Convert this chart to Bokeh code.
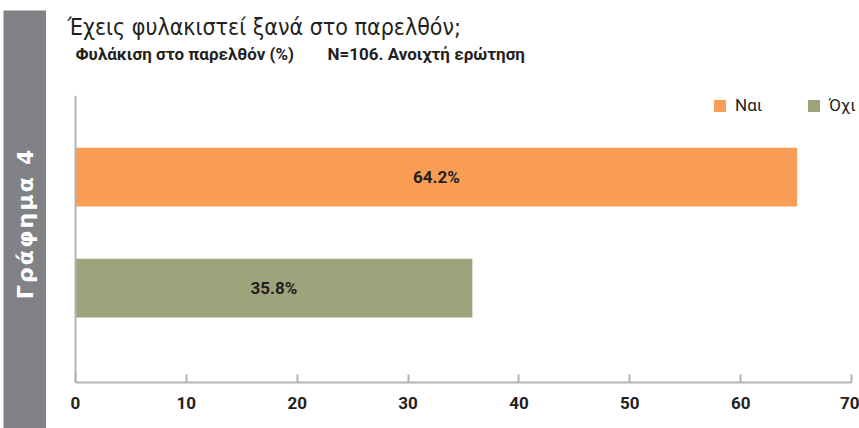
import math
from bokeh.plotting import figure
from bokeh.layouts import row, column
from bokeh.models import (Range1d, FixedTicker, Label, Legend, LegendItem,
                          ColumnDataSource, Span)
from bokeh.core.properties import value
from bokeh.embed import file_html
from bokeh.resources import INLINE

# ---- data ----
categories = ["Ναι", "Όχι"]
bar_lengths = [65.1, 35.8]          # as drawn in the picture
label_values = [64.2, 35.8]         # as printed on the bars
positions = [2, 1]
colors = ["#F99D55", "#9DA47C"]
x_ticks = [0, 10, 20, 30, 40, 50, 60, 70]
title_text = "Έχεις φυλακιστεί ξανά στο παρελθόν;"
subtitle_left = "Φυλάκιση στο παρελθόν (%)"
subtitle_right = "N=106. Ανοιχτή ερώτηση"
sidebar_text = "Γράφημα 4"

TFONT = "DejaVu Sans Condensed"
FONT = "Roboto"
DARK = "#231f20"
AXIS = "#b1b3b5"
GRAY = "#818286"


def blank(width, height, **kw):
    f = figure(width=width, height=height, x_range=Range1d(0, 1), y_range=Range1d(0, 1),
               x_axis_type=None, y_axis_type=None, toolbar_location=None,
               output_backend="svg", outline_line_color=None, **kw)
    f.grid.visible = False
    return f


# ---- sidebar ----
side = blank(46, 428, min_border_left=3, min_border_right=0, min_border_top=10,
             min_border_bottom=0, background_fill_color=GRAY)
side.add_layout(Label(x=21.5, y=204, x_units="screen", y_units="screen",
                      text="\u200a".join(sidebar_text), angle=math.pi / 2,
                      text_align="center", text_baseline="middle",
                      text_font="DejaVu Sans", text_font_style="bold",
                      text_font_size="22px", text_color="white"))

# ---- titles ----
head = blank(813, 90, min_border_left=0, min_border_right=0, min_border_top=0,
             min_border_bottom=0)
head.add_layout(Label(x=21, y=64, x_units="screen", y_units="screen", text=title_text,
                      text_font=TFONT, text_font_size="23px", text_color=DARK,
                      text_baseline="alphabetic"))
head.add_layout(Label(x=29, y=37, x_units="screen", y_units="screen", text=subtitle_left,
                      text_font=FONT, text_font_style="bold", text_font_size="17px",
                      text_color=DARK, text_baseline="alphabetic"))
head.add_layout(Label(x=281, y=37, x_units="screen", y_units="screen", text=subtitle_right,
                      text_font=FONT, text_font_style="bold", text_font_size="17px",
                      text_color=DARK, text_baseline="alphabetic"))

# ---- main chart ----
PX = 776 / 70.0   # pixels per unit on the x axis
p = figure(width=813, height=338, x_range=Range1d(-29 / PX, 784 / PX),
           y_range=Range1d(0.149, 2.735),
           min_border_left=0, min_border_right=0, min_border_top=5, min_border_bottom=46,
           toolbar_location=None, output_backend="svg", outline_line_color=None)
p.grid.visible = False
p.yaxis.visible = False

src = ColumnDataSource(dict(
    y=positions, right=bar_lengths, color=colors, cat=categories,
    mid=[v / 2 for v in bar_lengths],
    lab=[f"{v:.1f}%" for v in label_values],
))

r = p.hbar(y="y", left=0, right="right", height=0.53, fill_color="color",
           line_color=None, source=src)

p.text(x="mid", y="y", text="lab", source=src, text_align="center",
       text_baseline="middle", text_font=value(FONT), text_font_style="bold",
       text_font_size="17px", text_color=DARK)

p.add_layout(Span(location=0, dimension="height", line_color=AXIS, line_width=2))

p.xaxis.ticker = FixedTicker(ticks=x_ticks)
p.xaxis.bounds = (x_ticks[0], x_ticks[-1])
p.xaxis.axis_line_color = AXIS
p.xaxis.axis_line_width = 2
p.xaxis.major_tick_line_color = AXIS
p.xaxis.major_tick_line_width = 2
p.xaxis.major_tick_in = 8
p.xaxis.major_tick_out = 0
p.xaxis.minor_tick_line_color = None
p.xaxis.major_label_standoff = 14
p.xaxis.major_label_text_font = FONT
p.xaxis.major_label_text_font_style = "bold"
p.xaxis.major_label_text_font_size = "17px"
p.xaxis.major_label_text_color = DARK

items = [LegendItem(label=categories[i], renderers=[r], index=i) for i in range(len(categories))]
legend = Legend(items=items, location=(666, 267), orientation="horizontal",
                glyph_width=15, glyph_height=15, label_standoff=8, label_width=30,
                label_height=17, spacing=41, padding=0, margin=0,
                border_line_color=None, background_fill_alpha=0,
                label_text_font=FONT, label_text_font_size="17px",
                label_text_color=DARK)
p.add_layout(legend)

layout = row(side, column(head, p))
open("out.html", "w").write(file_html(layout, INLINE))
